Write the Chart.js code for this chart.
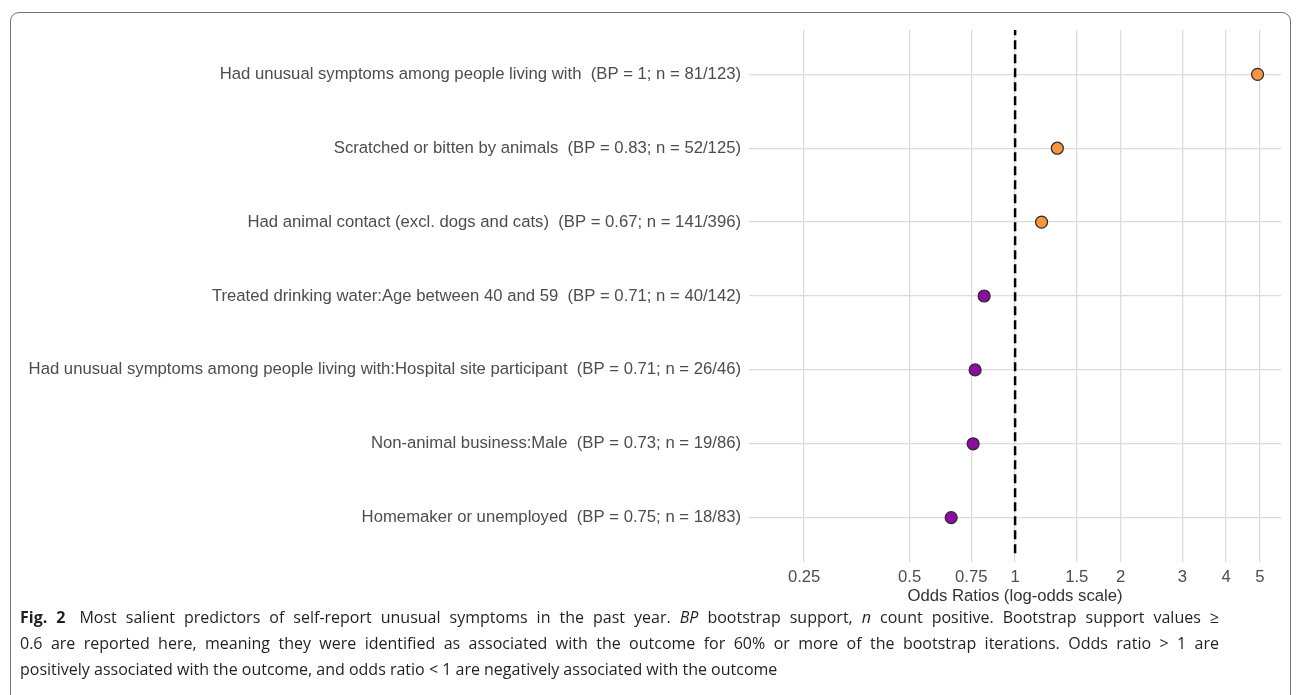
<!DOCTYPE html>
<html>
<head>
<meta charset="utf-8">
<script src="https://cdn.jsdelivr.net/npm/chart.js@4.4.1/dist/chart.umd.min.js"></script>
<style>
  body { margin: 0; background: #fff; }
  #frame { position: absolute; left: 10px; top: 12px; width: 1279px; height: 720px; border: 1.5px solid #707070; border-radius: 9px; }
  #chart { position: absolute; left: 0; top: 0; }
  #caption { position: absolute; left: 20px; top: 604px; width: 1199px; font-family: "Open Sans"; font-size: 16px; line-height: 26px; color: #231f20; white-space: nowrap; }
  #caption div { text-align: left; }
  #caption .just { text-align: justify; text-align-last: justify; }
  #caption b { font-weight: 700; margin-right: 5px; }
</style>
</head>
<body>
<div id="frame"></div>
<canvas id="chart" width="1298" height="606"></canvas>
<div id="caption">
  <div class="just"><b>Fig. 2</b> Most salient predictors of self-report unusual symptoms in the past year. <i>BP</i> bootstrap support, <i>n</i> count positive. Bootstrap support values ≥</div>
  <div class="just">0.6 are reported here, meaning they were identified as associated with the outcome for 60% or more of the bootstrap iterations. Odds ratio &gt; 1 are</div>
  <div>positively associated with the outcome, and odds ratio &lt; 1 are negatively associated with the outcome</div>
</div>
<script>
'use strict';

// predictors, top to bottom
var predictors = [
    "Had unusual symptoms among people living with",
    "Scratched or bitten by animals",
    "Had animal contact (excl. dogs and cats)",
    "Treated drinking water:Age between 40 and 59",
    "Had unusual symptoms among people living with:Hospital site participant",
    "Non-animal business:Male",
    "Homemaker or unemployed"
];
var bootSupport = ["1", "0.83", "0.67", "0.71", "0.71", "0.73", "0.75"];
var countPositive = ["81/123", "52/125", "141/396", "40/142", "26/46", "19/86", "18/83"];
var oddsRatios = [4.92, 1.32, 1.19, 0.816, 0.769, 0.759, 0.657];
var xTicks = [0.25, 0.5, 0.75, 1, 1.5, 2, 3, 4, 5];

var ORANGE = '#f8953f';
var PURPLE = '#8c0ba2';
var labelFont = { family: 'Liberation Sans', size: 16.7 };

var rowLabels = predictors.map(function(p, i) {
    return p + '  (BP = ' + bootSupport[i] + '; n = ' + countPositive[i] + ')';
});

var points = oddsRatios.map(function(v, i) { return { x: v, y: i + 1 }; });

var ctx = document.getElementById('chart').getContext('2d');
new Chart(ctx, {
    type: 'scatter',
    data: {
        datasets: [{
            data: points,
            pointRadius: 6,
            pointBackgroundColor: oddsRatios.map(function(v) { return v > 1 ? ORANGE : PURPLE; }),
            pointBorderColor: '#2a2a2a',
            pointBorderWidth: 1.2,
            order: 0
        }, {
            // reference line at OR = 1
            data: [{ x: 1, y: 0.35 }, { x: 1, y: 7.55 }],
            showLine: true,
            borderColor: '#000',
            borderWidth: 2.5,
            borderDash: [9, 5],
            pointRadius: 0,
            order: 1
        }]
    },
    options: {
        responsive: false,
        animation: false,
        layout: { padding: { top: 30, right: 17, left: 0, bottom: 0 } },
        plugins: { legend: { display: false }, tooltip: { enabled: false } },
        scales: {
            x: {
                type: 'logarithmic',
                min: 0.174,
                max: 5.74,
                afterBuildTicks: function(s) { s.ticks = xTicks.map(function(v) { return { value: v }; }); },
                afterFit: function(s) { s.height = 44; },
                ticks: {
                    autoSkip: false, maxRotation: 0, padding: 5,
                    color: '#4d4d4d', font: labelFont,
                    callback: function(v) { return String(v); }
                },
                grid: { color: '#dcdcdc', lineWidth: 1.3, drawTicks: false },
                border: { display: false },
                title: {
                    display: true, text: 'Odds Ratios (log-odds scale)',
                    color: '#333', font: labelFont, padding: { top: 0, bottom: 0 }
                }
            },
            y: {
                type: 'linear',
                reverse: true,
                min: 0.4,
                max: 7.6,
                afterBuildTicks: function(s) { s.ticks = rowLabels.map(function(l, i) { return { value: i + 1 }; }); },
                afterFit: function(s) { s.width = 749; },
                ticks: {
                    autoSkip: false, padding: 8,
                    color: '#4d4d4d', font: labelFont,
                    callback: function(v) { return rowLabels[v - 1]; }
                },
                grid: { color: '#dcdcdc', lineWidth: 1.3, drawTicks: false },
                border: { display: false }
            }
        }
    }
});
</script>
</body>
</html>
